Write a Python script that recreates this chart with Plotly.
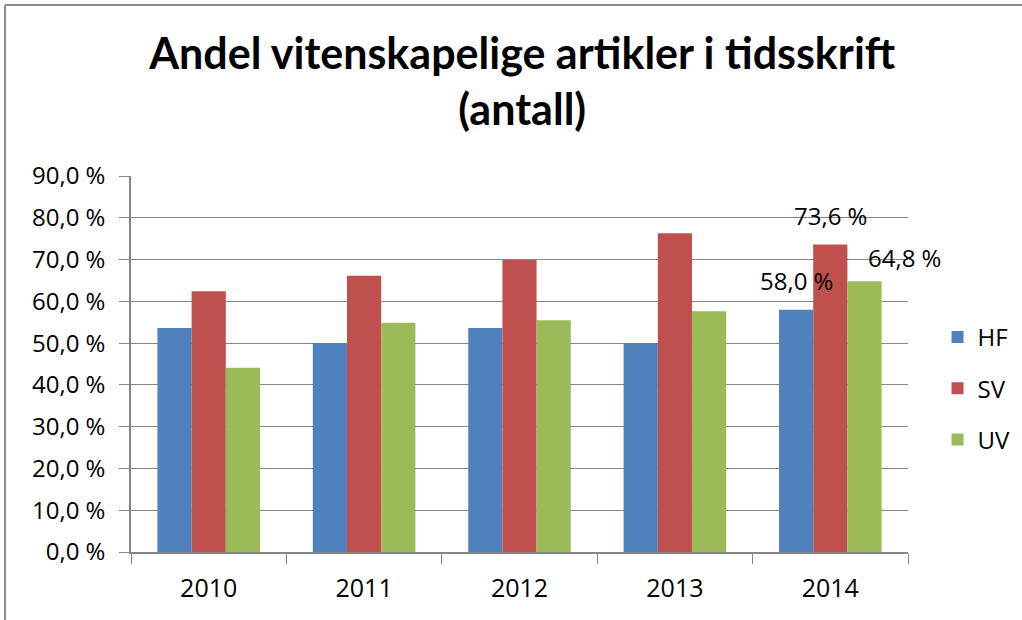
import plotly.graph_objects as go

years = ["2010", "2011", "2012", "2013", "2014"]
hf = [53.6, 50.0, 53.6, 50.0, 58.0]
sv = [62.4, 66.1, 69.9, 76.3, 73.6]
uv = [44.1, 54.9, 55.5, 57.6, 64.8]
series_names = ["HF", "SV", "UV"]
colors = ["#4F81BD", "#C0504D", "#9BBB59"]
y_ticks = [0, 10, 20, 30, 40, 50, 60, 70, 80, 90]
y_ticktext = [f"{v:.1f} %".replace(".", ",") for v in y_ticks]

FONT = "Open Sans"
TITLE_FONT = "Lato"

fig = go.Figure()
for name, vals, col in zip(series_names, [hf, sv, uv], colors):
    fig.add_trace(go.Bar(
        name=name, x=years, y=vals, marker=dict(color=col, line=dict(width=0)),
        legendgroup=name,
    ))

# data labels for the last year (manually offset as in the reference)
last_idx = len(years) - 1
label_offsets = [(0, 29), (0, 29), (40, 24)]
bar_shift = [-34, 0, 34]
for i, vals in enumerate([hf, sv, uv]):
    v = vals[last_idx]
    fig.add_annotation(
        x=last_idx, y=v, xref="x", yref="y",
        text=f"{v:.1f} %".replace(".", ","), showarrow=False,
        xshift=bar_shift[i] + label_offsets[i][0], yshift=label_offsets[i][1],
        font=dict(family=FONT, size=24, color="#000000"),
        xanchor="center", yanchor="middle",
    )

# outer chart frame (top and left edges visible)
def px_x(p):
    return (p - 131) / 777
def px_y(p):
    return (552 - p) / 376

fig.add_shape(type="line", xref="paper", yref="paper",
              x0=px_x(5), x1=px_x(1030), y0=px_y(5), y1=px_y(5),
              line=dict(color="#8C8C8C", width=2))
fig.add_shape(type="line", xref="paper", yref="paper",
              x0=px_x(5), x1=px_x(5), y0=px_y(5), y1=px_y(630),
              line=dict(color="#8C8C8C", width=2))

fig.update_layout(
    width=1022, height=620,
    margin=dict(l=131, r=114, t=176, b=68, autoexpand=False),
    paper_bgcolor="white", plot_bgcolor="white",
    barmode="group", bargap=0.34, bargroupgap=0,
    title=dict(
        text="<b>Andel vitenskapelige artikler i tidsskrift<br>(antall)</b>",
        x=0.511, xanchor="center", y=0.889, yanchor="middle",
        font=dict(family=TITLE_FONT, size=43, color="#000000"),
    ),
    font=dict(family=FONT, size=24, color="#000000"),
    legend=dict(
        x=1.038, xanchor="left", y=0.435, yanchor="middle",
        font=dict(family=FONT, size=24, color="#000000"),
        tracegroupgap=17, itemwidth=30, bgcolor="rgba(0,0,0,0)",
    ),
    showlegend=True,
)
fig.update_xaxes(
    type="category", range=[-0.5, len(years) - 0.5],
    showline=True, linecolor="#868686", linewidth=1.5,
    ticks="outside", tickson="boundaries", ticklen=10, tickcolor="#868686",
    tickfont=dict(family=FONT, size=25, color="#000000"),
    ticklabelstandoff=13,
    showgrid=False, automargin=False,
)
fig.update_yaxes(
    range=[0, 90], tickvals=y_ticks, ticktext=y_ticktext,
    showline=True, linecolor="#868686", linewidth=1.5,
    ticks="outside", ticklen=10, tickcolor="#868686",
    showgrid=True, gridcolor="#868686", gridwidth=1.2,
    tickfont=dict(family=FONT, size=24, color="#000000"),
    ticklabelstandoff=9,
    zeroline=False, automargin=False,
)

fig.write_html(
    "out.html",
    config={"displayModeBar": False},
    post_script="document.body.style.margin='0px';document.body.style.overflow='hidden';",
)
